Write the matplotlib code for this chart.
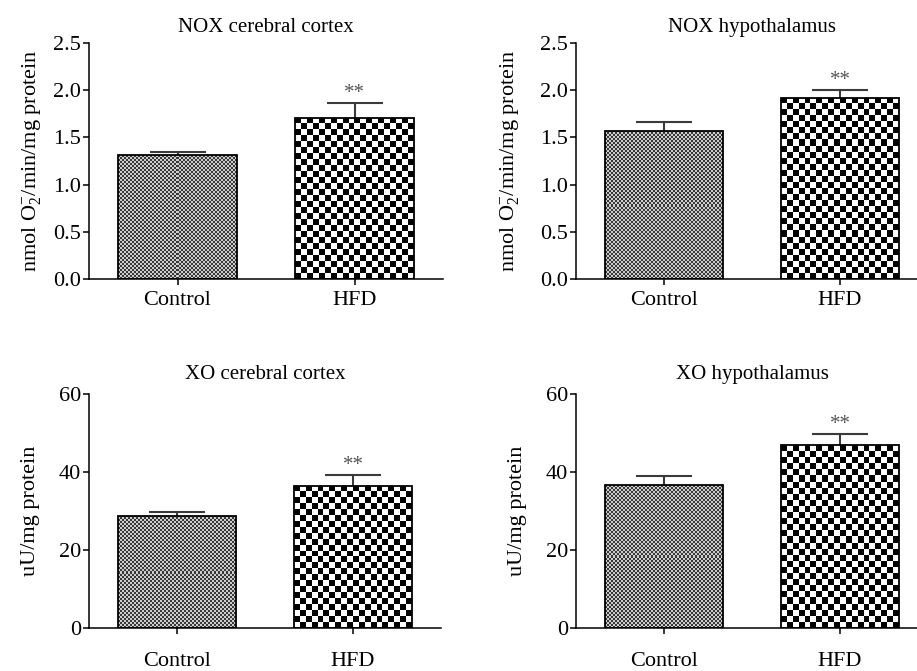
import numpy as np
import matplotlib
matplotlib.use("Agg")
import matplotlib.pyplot as plt

plt.rcParams["font.family"] = ["Liberation Serif", "DejaVu Serif"]
plt.rcParams["mathtext.fontset"] = "custom"
plt.rcParams["mathtext.rm"] = "Liberation Serif"
plt.rcParams["mathtext.default"] = "regular"

groups = ["Control", "HFD"]

titles = ["NOX cerebral cortex", "NOX hypothalamus",
          "XO cerebral cortex", "XO hypothalamus"]
ylabels = ["nmol O$_2^{-}$/min/mg protein", "nmol O$_2^{-}$/min/mg protein",
           "uU/mg protein", "uU/mg protein"]

nox_cortex = [1.31, 1.71]
nox_cortex_err = [0.04, 0.15]
nox_hypo = [1.57, 1.92]
nox_hypo_err = [0.09, 0.085]
xo_cortex = [28.8, 36.5]
xo_cortex_err = [1.0, 2.8]
xo_hypo = [36.6, 46.8]
xo_hypo_err = [2.5, 3.0]

values = [nox_cortex, nox_hypo, xo_cortex, xo_hypo]
errors = [nox_cortex_err, nox_hypo_err, xo_cortex_err, xo_hypo_err]
stars = ["", "**"]

nox_ticks = [0.0, 0.5, 1.0, 1.5, 2.0, 2.5]
nox_ticklabels = ["0.0", "0.5", "1.0", "1.5", "2.0", "2.5"]
xo_ticks = [0, 20, 40, 60]
xo_ticklabels = ["0", "20", "40", "60"]

W, H = 917, 671
fig = plt.figure(figsize=(W / 100, H / 100), dpi=100)

# axes boxes in pixels: left, right, top, bottom
boxes = [(89, 443, 43, 279), (576, 928, 43, 279),
         (89, 441, 394, 628), (576, 928, 394, 628)]
label_x = [-0.13, -0.155, -0.14, -0.14]
xpads = [4, 4, 13, 13]
title_pads = [8, 8, 11, 11]


def checker(nx, ny, dark, light):
    ii, jj = np.meshgrid(np.arange(nx), np.arange(ny))
    mask = (ii + jj) % 2 == 0
    img = np.zeros((ny, nx, 3))
    img[mask] = dark
    img[~mask] = light
    return img


# fill styles: (cell size in px, dark rgb, light rgb)
fills = [(2, (0.22, 0.22, 0.22), (0.8, 0.8, 0.8)),
         (6, (0.0, 0.0, 0.0), (1.0, 1.0, 1.0))]

for k in range(4):
    l, r, t, b = boxes[k]
    ax = fig.add_axes([l / W, 1 - b / H, (r - l) / W, (b - t) / H])
    x = np.arange(len(groups))
    vals = values[k]
    errs = errors[k]

    bars = ax.bar(x, vals, width=0.67, facecolor="none", edgecolor="black",
                  linewidth=1.3, zorder=3)
    eb = ax.errorbar(x, vals, yerr=[np.zeros(len(vals)), errs], fmt="none",
                     ecolor="#3a3a3a", elinewidth=1.5, capsize=20.5,
                     capthick=1.5, zorder=2)
    eb[1][0].set_visible(False)

    if k < 2:
        ax.set_ylim(0, 2.5)
        ax.set_yticks(nox_ticks)
        ax.set_yticklabels(nox_ticklabels)
    else:
        ax.set_ylim(0, 60)
        ax.set_yticks(xo_ticks)
        ax.set_yticklabels(xo_ticklabels)
    ax.set_xlim(-0.5, 1.5)

    fig.canvas.draw()
    for i, bar in enumerate(bars):
        x0, y0 = bar.get_x(), bar.get_y()
        x1, y1 = x0 + bar.get_width(), y0 + bar.get_height()
        p0 = ax.transData.transform((x0, y0))
        p1 = ax.transData.transform((x1, y1))
        cell, dark, light = fills[i]
        nx = max(1, int(round((p1[0] - p0[0]) / cell)))
        ny = max(1, int(round((p1[1] - p0[1]) / cell)))
        im = ax.imshow(checker(nx, ny, dark, light), extent=(x0, x1, y0, y1),
                       aspect="auto", interpolation="nearest", zorder=1,
                       origin="upper")
        im.set_clip_path(bar)
        if stars[i]:
            ax.annotate(stars[i], (x[i], vals[i] + errs[i]),
                        xytext=(0, 0), textcoords="offset points",
                        ha="center", va="bottom", fontsize=15, color="#555555")
    ax.set_xlim(-0.5, 1.5)
    ax.set_xticks(x)
    ax.set_xticklabels(groups)

    for s in ["top", "right"]:
        ax.spines[s].set_visible(False)
    for s in ["left", "bottom"]:
        ax.spines[s].set_linewidth(1.1)
    ax.tick_params(axis="y", length=4.5, width=1.1, labelsize=16, pad=1)
    ax.tick_params(axis="x", length=4.5, width=1.1, labelsize=16,
                   pad=xpads[k])
    ax.set_title(titles[k], fontsize=15, pad=title_pads[k])
    ax.set_ylabel(ylabels[k], fontsize=16)
    ax.yaxis.set_label_coords(label_x[k], 0.5)

fig.savefig("out.png", dpi=100)
